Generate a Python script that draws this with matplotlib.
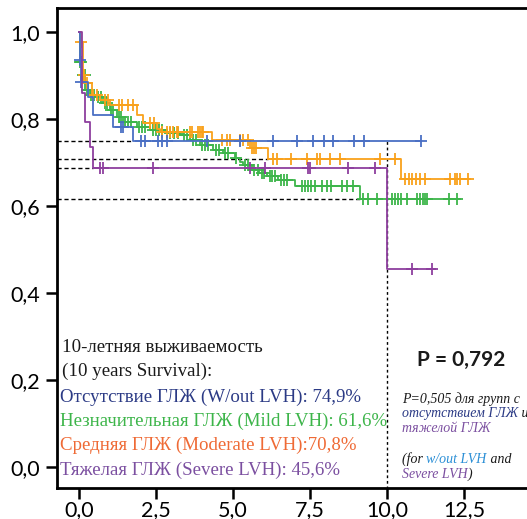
import numpy as np
import matplotlib
matplotlib.use("Agg")
import matplotlib.pyplot as plt

# 10-year survival, %
ten_year = {"blue": 74.9, "green": 61.6, "orange": 70.8, "purple": 45.6}

# Kaplan-Meier steps (time in years, survival)
blue_t = [0, 0.03, 0.08, 0.30, 0.44, 1.11, 1.76, 11.1]
blue_s = [1.0, 0.936, 0.886, 0.851, 0.809, 0.782, 0.749, 0.749]
blue_cens = [0.03, 0.08, 1.38, 1.44, 2.03, 2.14, 2.57, 2.68, 2.86, 4.16, 5.23,
             6.3, 7.08, 7.6, 7.95, 8.25, 8.93, 9.25, 11.1]

orange_t = [0, 0.05, 0.12, 0.2, 0.41, 0.68, 1.0, 1.87, 2.09, 2.52, 2.62, 4.32,
            5.55, 6.14, 10.47, 12.7]
orange_s = [1.0, 0.978, 0.90, 0.882, 0.855, 0.844, 0.832, 0.809, 0.79, 0.778,
            0.771, 0.752, 0.733, 0.708, 0.662, 0.662]
orange_cens = [0.05, 0.15, 0.25, 0.45, 0.6, 0.85, 0.95, 1.3, 1.4, 1.6, 1.75,
               2.3, 2.45, 2.7, 2.86, 2.95, 3.05, 3.18, 3.21, 3.6, 3.67, 3.86,
               3.93, 3.99, 4.03, 4.64, 4.8, 4.9, 5.23, 5.32, 5.49, 5.62, 5.7,
               5.75, 6.3, 6.43, 6.9, 7.4, 7.73, 7.82, 8.15, 8.47, 9.77, 10.26,
               10.58, 10.72, 10.83, 10.96, 11.07, 11.23, 12.05, 12.21, 12.28,
               12.37, 12.64]

green_t = [0, 0.03, 0.1, 0.2, 0.35, 0.57, 0.79, 1.0, 1.22, 1.44, 1.87, 2.3,
           2.84, 3.28, 3.6, 3.93, 4.35, 4.68, 5.06, 5.23, 5.32, 5.62, 5.85,
           6.1, 6.45, 7.0, 9.12, 12.37]
green_s = [1.0, 0.93, 0.90, 0.867, 0.855, 0.851, 0.836, 0.82, 0.805, 0.794,
           0.782, 0.775, 0.767, 0.763, 0.752, 0.74, 0.729, 0.722, 0.71, 0.70,
           0.694, 0.683, 0.676, 0.669, 0.66, 0.646, 0.616, 0.616]
green_cens = [0.03, 0.06, 0.12, 0.18, 0.25, 0.3, 0.4, 0.5, 0.62, 0.7, 0.85,
              0.92, 1.05, 1.12, 1.3, 1.35, 1.5, 1.58, 1.7, 1.95, 2.05, 2.15,
              2.4, 2.5, 2.6, 2.7, 2.95, 3.1, 3.2, 3.4, 3.5, 3.7, 3.8, 4.0, 4.1,
              4.2, 4.45, 4.55, 4.75, 4.85, 5.1, 5.4, 5.5, 5.7, 5.8, 5.95, 6.02,
              6.2, 6.28, 6.35, 6.55, 6.65, 6.75, 7.23, 7.34, 7.45, 7.55, 7.66,
              7.88, 8.04, 8.2, 8.53, 8.69, 8.91, 9.22, 9.38, 9.68, 10.15, 10.26,
              10.37, 10.45, 10.66, 10.98, 11.07, 11.16, 11.23, 11.31, 12.02,
              12.28]

purple_t = [0, 0.11, 0.19, 0.36, 0.47, 10.0, 11.56]
purple_s = [1.0, 0.859, 0.794, 0.736, 0.687, 0.456, 0.456]
purple_cens = [0.68, 0.79, 2.41, 5.55, 6.04, 7.44, 7.5, 8.73, 9.61, 10.8, 11.47]

x_ticks = [0, 2.5, 5, 7.5, 10, 12.5]
y_ticks = [0, 0.2, 0.4, 0.6, 0.8, 1.0]

c_blue, c_green, c_orange, c_purple = "#4a6fc4", "#3db54a", "#f9a11b", "#8e3f9e"

fig = plt.figure(figsize=(5.27, 5.19), dpi=100)
ax = fig.add_axes([57 / 527, 1 - 488 / 519, 1 - 57 / 527, (488 - 8) / 519])


def km(t, s, cens, color):
    ax.step(t, s, where="post", color=color, lw=1.3, zorder=3)
    t = np.asarray(t)
    idx = np.searchsorted(t, cens, side="right") - 1
    ax.plot(cens, np.asarray(s)[idx], ls="none", marker="+", ms=8, mew=1.3,
            color=color, zorder=3)


# reference lines at the 10-year levels
x0 = -0.714
ax.hlines(blue_s[-1], x0, blue_t[-2], colors="k", linestyles=(0, (3, 2)), lw=1)
ax.hlines(orange_s[13], x0, orange_t[13], colors="k", linestyles=(0, (3, 2)), lw=1)
ax.hlines(purple_s[4], x0, purple_t[4], colors="k", linestyles=(0, (3, 2)), lw=1)
ax.hlines(green_s[-1], x0, green_t[-2], colors="k", linestyles=(0, (3, 2)), lw=1)
ax.vlines(10.0, -0.1, blue_s[-1], colors="k", linestyles=(0, (2, 2)), lw=1)

km(green_t, green_s, green_cens, c_green)
km(orange_t, orange_s, orange_cens, c_orange)
km(blue_t, blue_s, blue_cens, c_blue)
km(purple_t, purple_s, purple_cens, c_purple)

ax.set_xlim(x0, 14.55)
ax.set_ylim(-0.048, 1.055)
ax.set_xticks(x_ticks)
ax.set_xticklabels([f"{v:.1f}".replace(".", ",") for v in x_ticks])
ax.set_yticks(y_ticks)
ax.set_yticklabels([f"{v:.1f}".replace(".", ",") for v in y_ticks])
ax.tick_params(direction="out", length=8, width=1.8, labelsize=15.5, pad=4)
ax.tick_params(axis="x", pad=0.5)
for lab in ax.get_xticklabels() + ax.get_yticklabels():
    lab.set_family("Lato")
for side in ["left", "bottom", "top"]:
    ax.spines[side].set_linewidth(2)
ax.spines["right"].set_visible(False)

# survival summary
serif = "Liberation Serif"
W, H = 527, 519
rows = [
    ("10-летняя выживаемость", "#1a1a1a", 62, 347),
    ("(10 years Survival):", "#1a1a1a", 62, 371),
    (f"Отсутствие ГЛЖ (W/out LVH): {ten_year['blue']:.1f}%".replace(".", ","), "#2b3a85", 60, 397),
    (f"Незначительная ГЛЖ (Mild LVH): {ten_year['green']:.1f}%".replace(".", ","), "#3db54a", 60, 421),
    (f"Средняя ГЛЖ (Moderate LVH):{ten_year['orange']:.1f}%".replace(".", ","), "#ef6a35", 60, 445),
    (f"Тяжелая ГЛЖ (Severe LVH): {ten_year['purple']:.1f}%".replace(".", ","), "#7b4fa0", 60, 470),
]
for txt, col, px, py in rows:
    fig.text(px / W, 1 - py / H, txt, color=col, family=serif, fontsize=13.6,
             va="center", ha="left")

fig.text(461 / W, 1 - 360 / H, "P = 0,792", family="Lato", weight="bold",
         fontsize=15, ha="center", va="center", color="#1a1a1a")

# p-value note, mixed colours on each line
note = [
    [("P=0,505 для групп с", "#1a1a1a")],
    [("отсутствием ГЛЖ", "#2b3a85"), (" и", "#1a1a1a")],
    [("тяжелой ГЛЖ", "#7b4fa0")],
    None,
    [("(for ", "#1a1a1a"), ("w/out LVH", "#2b8fd6"), (" and", "#1a1a1a")],
    [("Severe LVH", "#7b4fa0"), (")", "#1a1a1a")],
]
renderer = fig.canvas.get_renderer()
ny = 399
for line in note:
    if line is None:
        ny += 17
        continue
    nx = 402
    for part, col in line:
        t = fig.text(nx / W, 1 - ny / H, part, color=col, family=serif,
                     style="italic", fontsize=10, va="center", ha="left")
        nx += t.get_window_extent(renderer).width
    ny += 14.5

fig.savefig("out.png", dpi=100)
